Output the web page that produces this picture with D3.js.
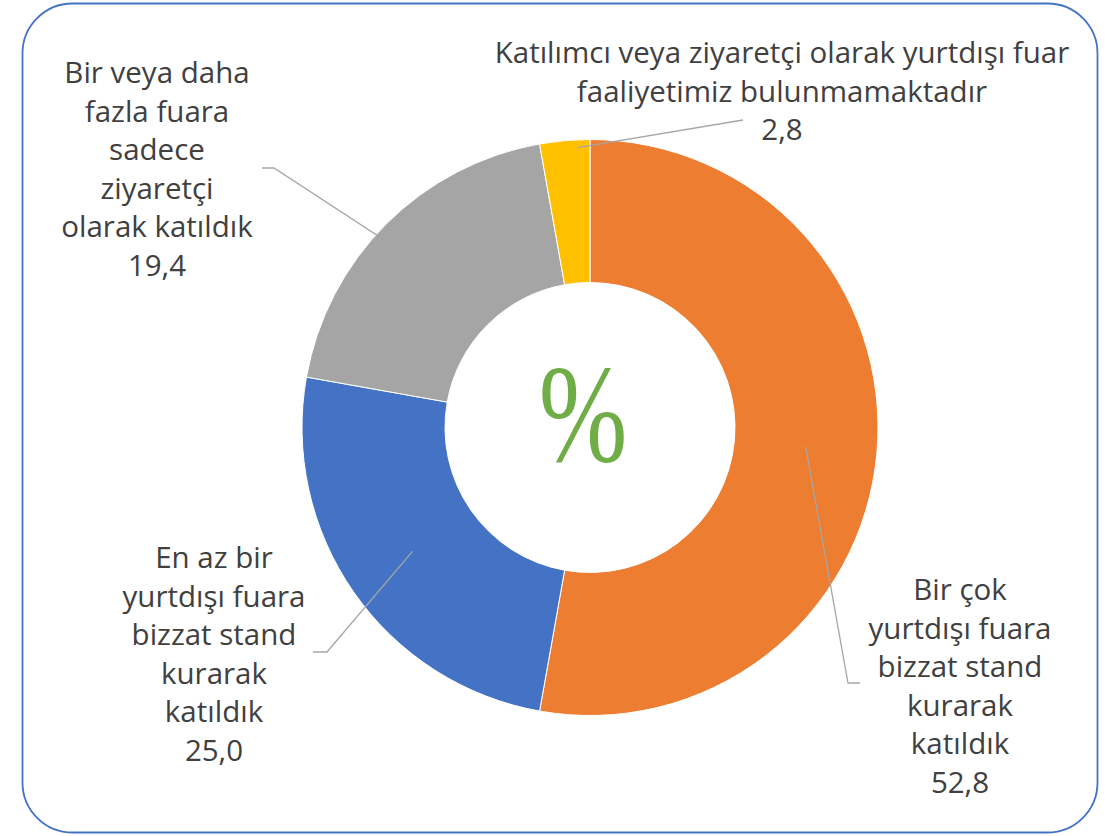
<!DOCTYPE html>
<html>
<head>
<meta charset="utf-8">
<script src="https://cdn.jsdelivr.net/npm/d3@7"></script>
<style>
  body { margin: 0; background: #fff; }
  svg text { font-family: "Open Sans", "Noto Sans", sans-serif; }
</style>
</head>
<body>
<div id="container"></div>
<script>
const categories = [
  "Bir çok yurtdışı fuara bizzat stand kurarak katıldık",
  "En az bir yurtdışı fuara bizzat stand kurarak katıldık",
  "Bir veya daha fazla fuara sadece ziyaretçi olarak katıldık",
  "Katılımcı veya ziyaretçi olarak yurtdışı fuar faaliyetimiz bulunmamaktadır"
];
const values = [52.8, 25.0, 19.4, 2.8];
const colors = ["#ED7D31", "#4472C4", "#A5A5A5", "#FFC000"];

// how each category label wraps in the picture
const labelLines = [
  ["Bir çok", "yurtdışı fuara", "bizzat stand", "kurarak", "katıldık"],
  ["En az bir", "yurtdışı fuara", "bizzat stand", "kurarak", "katıldık"],
  ["Bir veya daha", "fazla fuara", "sadece", "ziyaretçi", "olarak katıldık"],
  ["Katılımcı veya ziyaretçi olarak yurtdışı fuar", "faaliyetimiz bulunmamaktadır"]
];

const width = 1112, height = 836;
const cx = 590, cy = 427.5;
const outerR = 288, innerR = 145;
const lineH = 38.6;
const fontSize = 29.5;

// label placement: text centre, first baseline, leader knee, stub end
const labelPos = [
  { x: 960, y: 600, knee: [848, 683], stub: [860, 683] },
  { x: 214, y: 568, knee: [327, 652], stub: [313, 652] },
  { x: 157, y: 83, knee: [274, 168], stub: [262, 168] },
  { x: 782, y: 63, knee: [743, 120], stub: [743, 120] }
];

const fmt = v => d3.format(".1f")(v).replace(".", ",");

const svg = d3.select("#container")
  .append("svg")
  .attr("width", width)
  .attr("height", height);

svg.append("rect")
  .attr("x", 22.5).attr("y", 3.5)
  .attr("width", 1075).attr("height", 829)
  .attr("rx", 50).attr("ry", 50)
  .attr("fill", "#fff")
  .attr("stroke", "#4472C4")
  .attr("stroke-width", 1.8);

const pie = d3.pie().sort(null).value(d => d);
const arcs = pie(values);

const arc = d3.arc().innerRadius(innerR).outerRadius(outerR);

const g = svg.append("g").attr("transform", `translate(${cx},${cy})`);

g.selectAll("path.slice")
  .data(arcs)
  .enter()
  .append("path")
  .attr("class", "slice")
  .attr("d", arc)
  .attr("fill", (d, i) => colors[i])
  .attr("stroke", "#fff")
  .attr("stroke-width", 1);

// leader lines: from slice to the label
const leaderEnd = (d, i) => {
  if (i === 3) {
    // small slice: leader stops near the outer rim
    const a = d.startAngle + (d.endAngle - d.startAngle) * 0.75;
    const r = outerR * 0.973;
    return [cx + r * Math.sin(a), cy - r * Math.cos(a)];
  }
  const c = arc.centroid(d);
  return [cx + c[0], cy + c[1]];
};

svg.selectAll("polyline.leader")
  .data(arcs)
  .enter()
  .append("polyline")
  .attr("class", "leader")
  .attr("points", (d, i) => {
    const p = labelPos[i];
    const e = leaderEnd(d, i);
    return [p.stub, p.knee, e].map(q => q.join(",")).join(" ");
  })
  .attr("fill", "none")
  .attr("stroke", "#A6A6A6")
  .attr("stroke-width", 1.3);

// labels
const labels = svg.selectAll("text.label")
  .data(arcs)
  .enter()
  .append("text")
  .attr("class", "label")
  .attr("text-anchor", "middle")
  .attr("font-size", fontSize)
  .attr("fill", "#404040");

labels.each(function (d, i) {
  const t = d3.select(this);
  const p = labelPos[i];
  const lines = labelLines[i].concat([fmt(values[i])]);
  lines.forEach((s, k) => {
    t.append("tspan")
      .attr("x", p.x)
      .attr("y", p.y + k * lineH)
      .text(s);
  });
});

// centre sign
svg.append("text")
  .attr("transform", `translate(583,461) scale(0.76,1)`)
  .attr("text-anchor", "middle")
  .attr("font-size", 140)
  .attr("fill", "#70AD47")
  .style("font-family", "'Liberation Serif', 'DejaVu Serif', serif")
  .text("%");
</script>
</body>
</html>
